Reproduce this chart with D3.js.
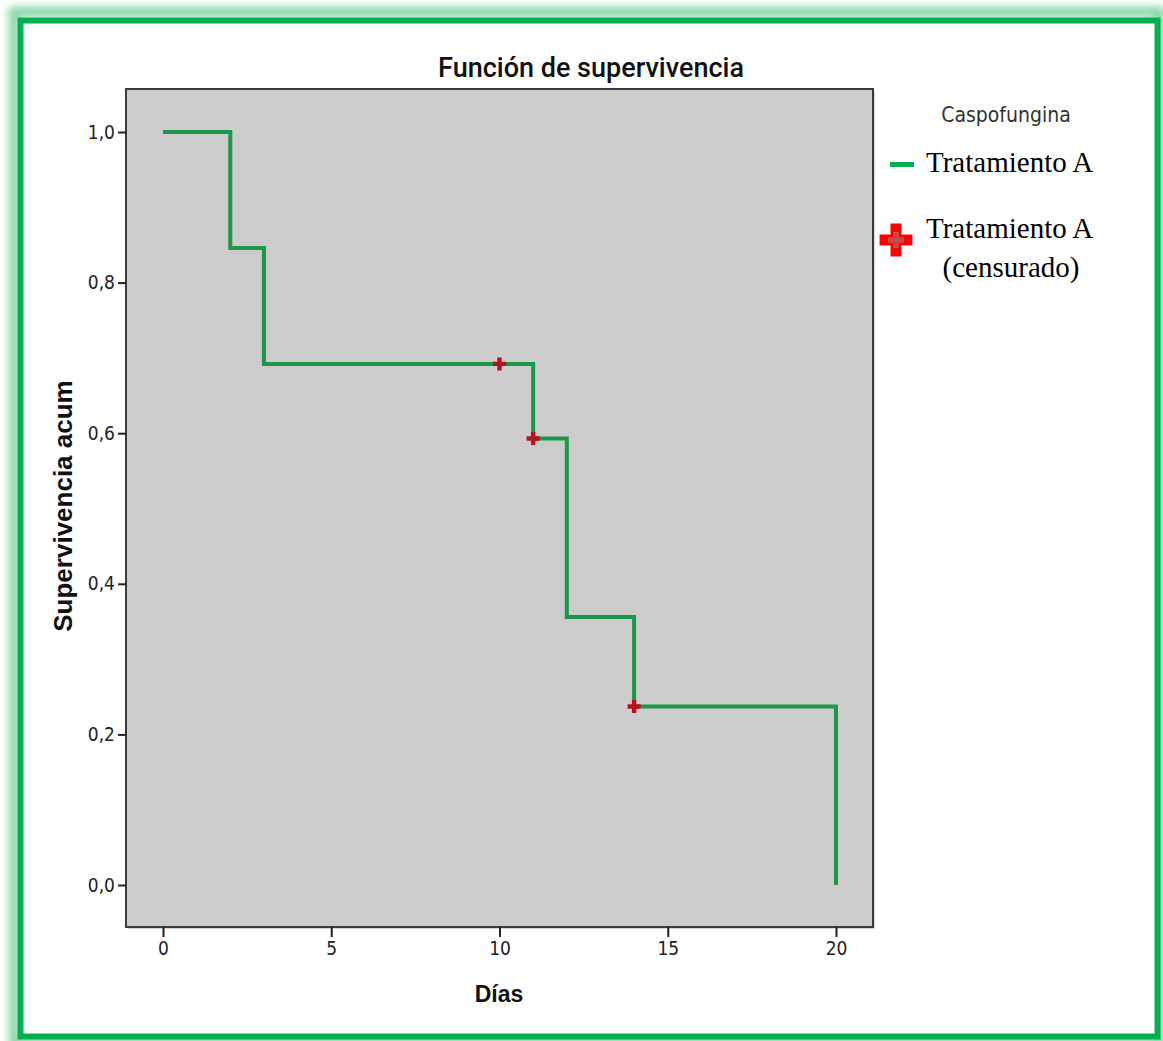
<!DOCTYPE html>
<html>
<head>
<meta charset="utf-8">
<script src="https://cdn.jsdelivr.net/npm/d3@7"></script>
<style>
  body { margin: 0; background: #fff; }
  svg { display: block; }
</style>
</head>
<body>
<svg id="chart" width="1163" height="1041"></svg>
<script>
// Kaplan-Meier steps
const times = [0, 2, 3, 11, 12, 14, 20];
const survival = [1, 0.846, 0.692, 0.593, 0.356, 0.237, 0];
// censored observations
const censorTimes = [10, 11, 14];
const censorSurv = [0.692, 0.593, 0.237];

const xTicks = [0, 5, 10, 15, 20];
const yTicks = [0, 0.2, 0.4, 0.6, 0.8, 1.0];

const svg = d3.select("#chart");
const width = 1163, height = 1041;

// outer frame with soft glow
const defs = svg.append("defs");
const blur = defs.append("filter").attr("id", "glow").attr("x", "-5%").attr("y", "-5%").attr("width", "110%").attr("height", "110%");
blur.append("feGaussianBlur").attr("stdDeviation", 4);

svg.append("rect")
  .attr("x", 14).attr("y", 12).attr("width", 1146).attr("height", 1030)
  .attr("fill", "none").attr("stroke", "#7fd4a0").attr("stroke-width", 10)
  .attr("filter", "url(#glow)");
svg.append("rect")
  .attr("x", 20.5).attr("y", 20.5).attr("width", 1137).attr("height", 1016)
  .attr("fill", "#fff").attr("stroke", "#00b050").attr("stroke-width", 6);

// plot area
const plot = { left: 126, top: 89, right: 873, bottom: 927 };

const x = d3.scaleLinear().domain([0, 20]).range([163, 836]);
const y = d3.scaleLinear().domain([0, 1]).range([885, 132]);

// faint drop shadow then panel
svg.append("rect")
  .attr("x", plot.left + 2).attr("y", plot.top + 2)
  .attr("width", plot.right - plot.left).attr("height", plot.bottom - plot.top)
  .attr("fill", "#d8d8d8");
svg.append("rect")
  .attr("x", plot.left).attr("y", plot.top)
  .attr("width", plot.right - plot.left).attr("height", plot.bottom - plot.top)
  .attr("fill", "#cccccc").attr("stroke", "#3a3a3a").attr("stroke-width", 2);

const fmt = d => d3.format(".1f")(d).replace(".", ",");
const tickFont = "'Liberation Sans Narrow', 'DejaVu Sans Condensed', sans-serif";

const yAxis = svg.append("g")
  .attr("transform", `translate(${plot.left},0)`)
  .call(d3.axisLeft(y).tickValues(yTicks).tickFormat(fmt).tickSize(8).tickPadding(3));
const xAxis = svg.append("g")
  .attr("transform", `translate(0,${plot.bottom})`)
  .call(d3.axisBottom(x).tickValues(xTicks).tickSize(10).tickPadding(5));

[xAxis, yAxis].forEach(g => {
  g.select(".domain").remove();
  g.selectAll("line").attr("stroke", "#222").attr("stroke-width", 2);
  g.selectAll("text")
    .attr("font-family", tickFont)
    .attr("font-size", 19).attr("fill", "#222");
});

// survival curve
const line = d3.line()
  .x(d => x(d[0])).y(d => y(d[1]))
  .curve(d3.curveStepAfter);
const pts = times.map((t, i) => [t, survival[i]]);
svg.append("path")
  .datum(pts)
  .attr("fill", "none")
  .attr("stroke", "#1a9748")
  .attr("stroke-width", 4)
  .attr("d", line);

// censor marks
const cross = d3.symbol().type(d3.symbolCross).size(95);
svg.selectAll(".censor")
  .data(censorTimes.map((t, i) => [t, censorSurv[i]]))
  .join("path")
  .attr("class", "censor")
  .attr("transform", d => `translate(${x(d[0])},${y(d[1])})`)
  .attr("d", cross)
  .attr("fill", "#b5121b");

// titles
svg.append("text")
  .attr("x", 591).attr("y", 77)
  .attr("text-anchor", "middle")
  .attr("font-family", "Roboto, 'Liberation Sans', sans-serif")
  .attr("font-weight", 500)
  .attr("font-size", 27)
  .attr("fill", "#111")
  .text("Función de supervivencia");

svg.append("text")
  .attr("x", 499).attr("y", 1002)
  .attr("text-anchor", "middle")
  .attr("font-family", "'Liberation Sans', Arial, sans-serif")
  .attr("font-weight", "bold")
  .attr("font-size", 23)
  .attr("fill", "#111")
  .text("Días");

svg.append("text")
  .attr("transform", "translate(72,506) rotate(-90)")
  .attr("text-anchor", "middle")
  .attr("font-family", "'Liberation Sans', Arial, sans-serif")
  .attr("font-weight", "bold")
  .attr("font-size", 26)
  .attr("fill", "#111")
  .text("Supervivencia acum");

// legend
const legend = svg.append("g");
legend.append("text")
  .attr("x", 1006).attr("y", 122)
  .attr("text-anchor", "middle")
  .attr("font-family", tickFont)
  .attr("font-size", 21).attr("fill", "#333")
  .text("Caspofungina");

legend.append("rect")
  .attr("x", 890).attr("y", 162).attr("width", 24).attr("height", 5)
  .attr("fill", "#00b050");
legend.append("text")
  .attr("x", 926).attr("y", 172)
  .attr("font-family", "'Liberation Serif', 'Times New Roman', serif")
  .attr("font-size", 29).attr("fill", "#000")
  .text("Tratamiento A");

legend.append("path")
  .attr("transform", "translate(896,240)")
  .attr("d", d3.symbol().type(d3.symbolCross).size(600))
  .attr("fill", "#ff0000");
legend.append("path")
  .attr("transform", "translate(896,240)")
  .attr("d", d3.symbol().type(d3.symbolCross).size(150))
  .attr("fill", "#c94a4a");
legend.append("text")
  .attr("x", 926).attr("y", 238)
  .attr("font-family", "'Liberation Serif', 'Times New Roman', serif")
  .attr("font-size", 29).attr("fill", "#000")
  .text("Tratamiento A");
legend.append("text")
  .attr("x", 1011).attr("y", 277)
  .attr("text-anchor", "middle")
  .attr("font-family", "'Liberation Serif', 'Times New Roman', serif")
  .attr("font-size", 29).attr("fill", "#000")
  .text("(censurado)");
</script>
</body>
</html>
